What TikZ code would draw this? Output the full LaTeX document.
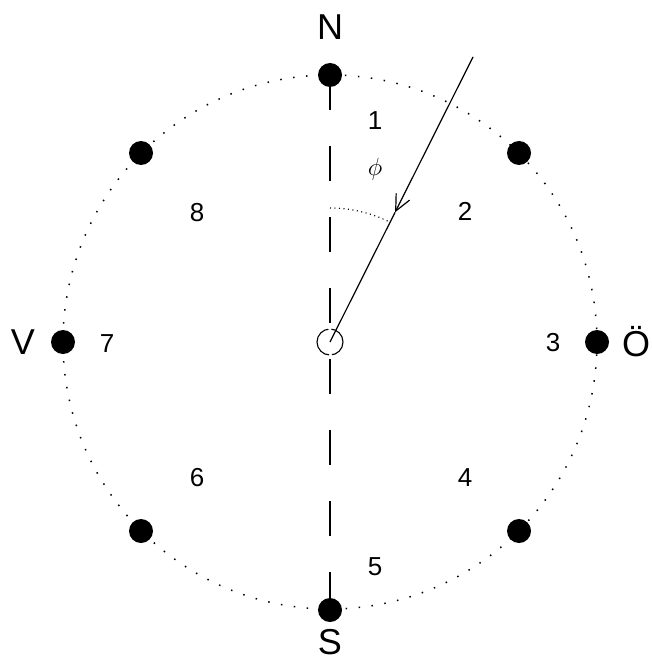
\documentclass[tikz,border=0pt]{standalone}
\usepackage{fontspec}
\setmainfont{Liberation Sans}
\usetikzlibrary{arrows.meta,calc}
\begin{document}
\begin{tikzpicture}[x=1pt,y=-1pt,
  bigdot/.style={circle,fill=black,inner sep=0pt,minimum size=24pt},
  lbl/.style={font=\fontsize{36}{40}\selectfont,inner sep=0pt},
  num/.style={font=\fontsize{26}{30}\selectfont,inner sep=0pt},
  dotline/.style={line width=1.5pt,dash pattern=on 1.5pt off 11.5pt}]
\useasboundingbox (0,0) rectangle (652,663);
\coordinate (O) at (330,342);
\draw[dotline] (O) circle (267pt);
\draw[line width=1.5pt,dash pattern=on 35pt off 36pt] (330,75) -- (330,610);
\node[bigdot] (dN) at (330,75) {};
\node[bigdot] (dS) at (330,610) {};
\node[bigdot] (dV) at (63,342) {};
\node[bigdot] (dO) at (597,342) {};
\node[bigdot] (dNE) at (519,153) {};
\node[bigdot] (dNW) at (141,153) {};
\node[bigdot] (dSE) at (519,531) {};
\node[bigdot] (dSW) at (141,531) {};
\node[circle,fill=white,inner sep=0pt,minimum size=26pt] (c) at (O) {};
\draw[line width=1.1pt,dash pattern=on 18.9pt off 3pt on 37.9pt off 3pt] (O) circle (13pt);
\coordinate (A) at (473,57);
\coordinate (T) at ($(A)!0.545!(O)$);
\draw[line width=1.2pt,-{Straight Barb[length=16pt,width=15pt,line width=1.2pt]}] (A) -- (T);
\draw[line width=1.2pt] (T) -- (c.center);
\draw[line width=1.2pt,dash pattern=on 1pt off 3.5pt] (O) ++(90:134pt) arc[start angle=90,end angle=63.4,radius=134pt];
\node[font=\fontsize{24}{26}\selectfont,inner sep=0pt] (phi) at (375,169) {$\phi$};
\node[lbl] (lN) at (330,27) {N};
\node[lbl] (lS) at (330,642) {S};
\node[lbl] (lV) at (23,342) {V};
\node[lbl] (lO) at (636,342) {Ö};
\node[num] (n1) at (375,121) {1};
\node[num] (n2) at (465,211) {2};
\node[num] (n3) at (553,343) {3};
\node[num] (n4) at (465,478) {4};
\node[num] (n5) at (375,567) {5};
\node[num] (n6) at (197,478) {6};
\node[num] (n7) at (107,344) {7};
\node[num] (n8) at (197,213) {8};
\end{tikzpicture}
\end{document}
